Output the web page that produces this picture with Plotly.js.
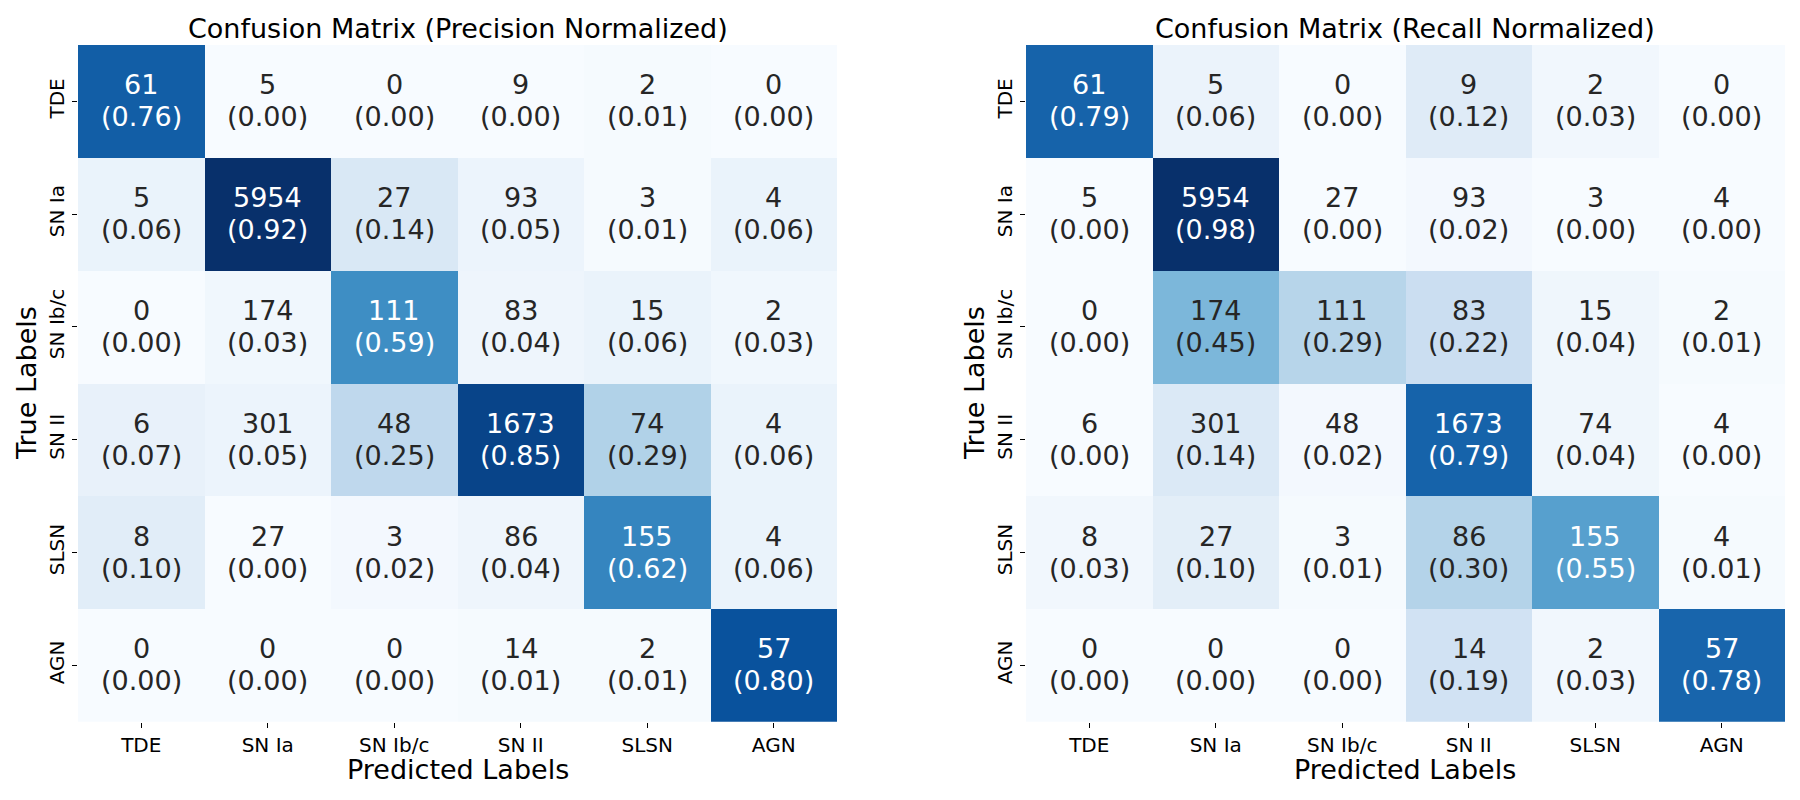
<!DOCTYPE html>
<html>
<head>
<meta charset="utf-8">
<script src="https://cdn.plot.ly/plotly-3.0.1.min.js"></script>
<style>html,body{margin:0;padding:0;background:#fff;}#chart{width:1800px;height:800px;}</style>
</head>
<body>
<div id="chart"></div>
<script>
const labels = ['TDE', 'SN Ia', 'SN Ib/c', 'SN II', 'SLSN', 'AGN'];
const counts = [
  [61, 5, 0, 9, 2, 0],
  [5, 5954, 27, 93, 3, 4],
  [0, 174, 111, 83, 15, 2],
  [6, 301, 48, 1673, 74, 4],
  [8, 27, 3, 86, 155, 4],
  [0, 0, 0, 14, 2, 57]
];
const precision = [
  [0.76, 0.00, 0.00, 0.00, 0.01, 0.00],
  [0.06, 0.92, 0.14, 0.05, 0.01, 0.06],
  [0.00, 0.03, 0.59, 0.04, 0.06, 0.03],
  [0.07, 0.05, 0.25, 0.85, 0.29, 0.06],
  [0.10, 0.00, 0.02, 0.04, 0.62, 0.06],
  [0.00, 0.00, 0.00, 0.01, 0.01, 0.80]
];
const recall = [
  [0.79, 0.06, 0.00, 0.12, 0.03, 0.00],
  [0.00, 0.98, 0.00, 0.02, 0.00, 0.00],
  [0.00, 0.45, 0.29, 0.22, 0.04, 0.01],
  [0.00, 0.14, 0.02, 0.79, 0.04, 0.00],
  [0.03, 0.10, 0.01, 0.30, 0.55, 0.01],
  [0.00, 0.00, 0.00, 0.19, 0.03, 0.78]
];
const titles = ['Confusion Matrix (Precision Normalized)', 'Confusion Matrix (Recall Normalized)'];
const xTitle = 'Predicted Labels';
const yTitle = 'True Labels';

const mplBlues = [
  [0.0, '#f7fbff'], [0.125, '#deebf7'], [0.25, '#c6dbef'], [0.375, '#9ecae1'],
  [0.5, '#6baed6'], [0.625, '#4292c6'], [0.75, '#2171b5'], [0.875, '#08519c'], [1.0, '#08306b']
];
const FONT = 'DejaVu Sans, Liberation Sans, sans-serif';
const mats = [precision, recall];
const xDomains = [[78 / 1800, 837 / 1800], [1026 / 1800, 1785 / 1800]];
const yDomain = [(800 - 721.7) / 800, (800 - 45) / 800];

const traces = [];
const annotations = [];
mats.forEach((m, k) => {
  const xa = k === 0 ? 'x' : 'x2';
  const ya = k === 0 ? 'y' : 'y2';
  const zmax = Math.max(...m.flat());
  traces.push({
    type: 'heatmap', z: m, x: labels, y: labels, xaxis: xa, yaxis: ya,
    colorscale: mplBlues, zmin: 0, zmax: zmax, showscale: false, hoverinfo: 'skip'
  });
  m.forEach((row, i) => {
    row.forEach((v, j) => {
      const col = (v / zmax) > 0.5 ? '#ffffff' : '#262626';
      annotations.push({
        xref: xa, yref: ya, x: labels[j], y: labels[i], text: String(counts[i][j]),
        showarrow: false, yshift: 16.5, font: {family: FONT, size: 27, color: col}
      });
      annotations.push({
        xref: xa, yref: ya, x: labels[j], y: labels[i], text: '(' + v.toFixed(2) + ')',
        showarrow: false, yshift: -15.5, font: {family: FONT, size: 27, color: col}
      });
    });
  });
  const cx = (xDomains[k][0] + xDomains[k][1]) / 2;
  annotations.push({
    xref: 'paper', yref: 'paper', x: cx, y: 1 - 28 / 800, xanchor: 'center', yanchor: 'middle',
    text: titles[k], showarrow: false, font: {family: FONT, size: 27, color: '#000'}
  });
  annotations.push({
    xref: 'paper', yref: 'paper', x: cx, y: (800 - 769) / 800, xanchor: 'center', yanchor: 'middle',
    text: xTitle, showarrow: false, font: {family: FONT, size: 27, color: '#000'}
  });
  annotations.push({
    xref: 'paper', yref: 'paper', x: (xDomains[k][0] * 1800 - 52) / 1800, y: (800 - 383) / 800,
    xanchor: 'center', yanchor: 'middle', textangle: -90,
    text: yTitle, showarrow: false, font: {family: FONT, size: 27, color: '#000'}
  });
});

function xAxis(dom, anchor) {
  return {
    domain: dom, anchor: anchor, type: 'category', showgrid: false, zeroline: false, showline: false,
    ticks: 'outside', ticklen: 5, tickwidth: 1, tickcolor: '#000',
    tickfont: {family: FONT, size: 20, color: '#000'}, fixedrange: true
  };
}
function yAxis(anchor) {
  return {
    domain: yDomain, anchor: anchor, type: 'category', autorange: 'reversed',
    showgrid: false, zeroline: false, showline: false,
    ticks: 'outside', ticklen: 5, tickwidth: 1, tickcolor: '#000', tickangle: -90,
    tickfont: {family: FONT, size: 20, color: '#000'}, fixedrange: true
  };
}

const layout = {
  width: 1800, height: 800, margin: {l: 0, r: 0, t: 0, b: 0},
  paper_bgcolor: '#fff', plot_bgcolor: '#fff', showlegend: false,
  xaxis: xAxis(xDomains[0], 'y'), yaxis: yAxis('x'),
  xaxis2: xAxis(xDomains[1], 'y2'), yaxis2: yAxis('x2'),
  annotations: annotations
};

Plotly.newPlot('chart', traces, layout, {displayModeBar: false, staticPlot: true});
</script>
</body>
</html>
